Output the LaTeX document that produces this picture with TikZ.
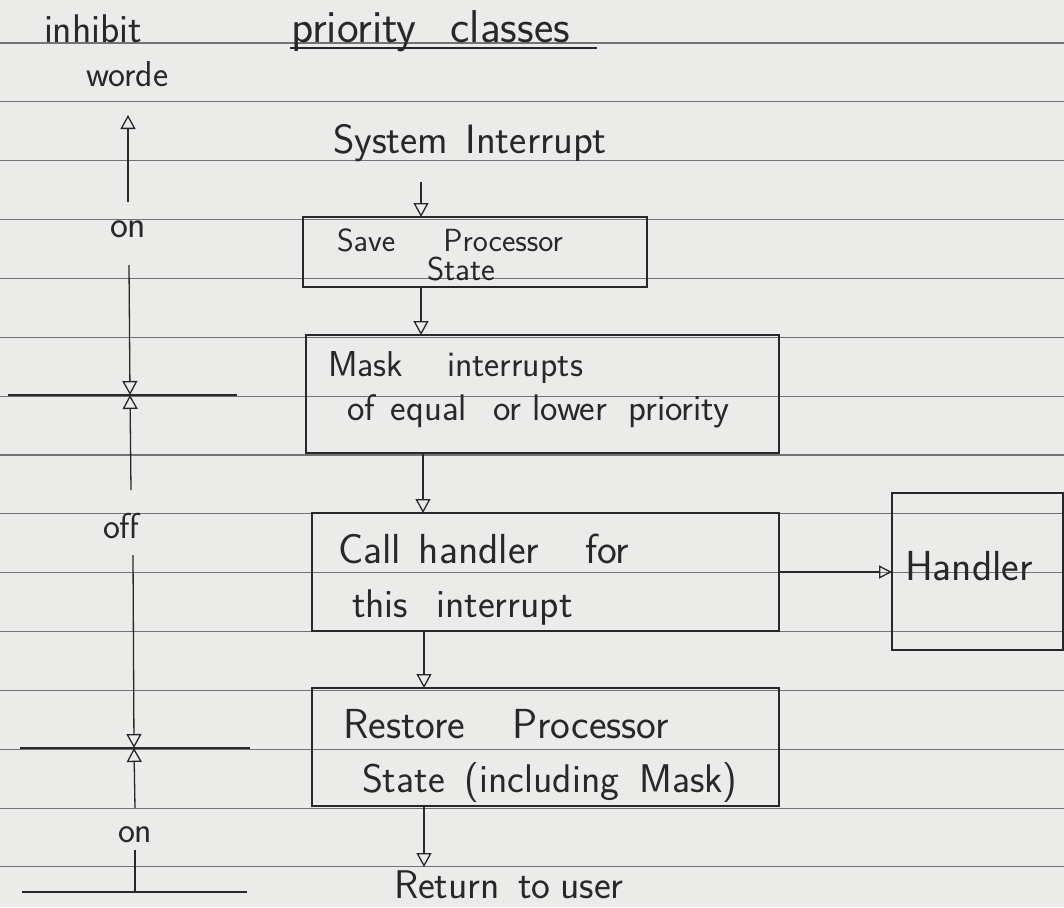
\documentclass[tikz,border=0pt]{standalone}
\usepackage{fontspec}
\usetikzlibrary{arrows.meta}
\definecolor{paper}{RGB}{235,235,233}
\definecolor{ink}{RGB}{40,40,40}
\definecolor{rulec}{RGB}{115,115,115}
\newcommand\hwsize[1]{\sffamily\fontsize{#1}{#1}\selectfont}
\begin{document}
\begin{tikzpicture}[x=1pt,y=-1pt,
  rule/.style={draw=rulec, line width=1.1pt},
  pen/.style={draw=ink, line width=2pt},
  box/.style={draw=ink, line width=1.7pt, inner sep=0pt, outer sep=0pt},
  arr/.style={draw=ink, line width=1.3pt, -{Triangle[open,length=14pt,width=15pt]}},
  sarr/.style={draw=ink, line width=1.3pt, -{Triangle[open,length=13pt,width=13pt]}},
  hw/.style={anchor=base west, inner sep=0pt, outer sep=0pt, text=ink}]
\useasboundingbox (0,0) rectangle (1064,907);
\fill[paper] (0,0) rectangle (1064,907);
\foreach \k in {0,...,14}{\pgfmathsetmacro\yy{43+58.85*\k}\draw[rule] (0,\yy) -- (1064,\yy);}

% header texts
\node[hw, font=\hwsize{40}] (inhibit) at (44,42) {inhibit};
\node[hw, font=\hwsize{36}] (worde) at (86,86) {worde};
\node[hw, font=\hwsize{46}] (prio) at (291,43) {priority\hspace{34pt}classes};
\draw[pen] (290,48) -- (597,48);

% left column: inhibit word states
\node[hw, font=\hwsize{38}] (on1) at (110,237) {on};
\node[hw, font=\hwsize{36}] (off) at (103,538) {off};
\node[hw, font=\hwsize{36}] (on3) at (118,842) {on};
\coordinate (t0) at (128,115);
\coordinate (c1) at (128,202);
\coordinate (c2) at (129,265);
\coordinate (b1) at (130,395);
\coordinate (c3) at (131,490);
\coordinate (c4) at (133,555);
\coordinate (b2) at (134,748);
\coordinate (c5) at (135,808);
\coordinate (c6) at (135,850);
\coordinate (b3) at (135,892);
\draw[arr] (c1) -- (t0);
\draw[arr] (c2) -- (b1);
\draw[arr] (c3) -- (b1);
\draw[arr] (c4) -- (b2);
\draw[arr] (c5) -- (b2);
\draw[draw=ink, line width=1.3pt] (c6) -- (b3);
\coordinate (h1a) at (8,395);   \coordinate (h1b) at (237,395);
\coordinate (h2a) at (20,748);  \coordinate (h2b) at (250,748);
\coordinate (h3a) at (22,892);  \coordinate (h3b) at (247,892);
\draw[pen] (h1a) -- (h1b);
\draw[pen] (h2a) -- (h2b);
\draw[pen] (h3a) -- (h3b);

% main flow
\node[hw, font=\hwsize{41}] (sysint) at (333,153) {System\hspace{17pt}Interrupt};

\node[box, minimum width=344pt, minimum height=70pt] (save) at (475,252) {};
\node[hw, font=\hwsize{32}] (save1) at (337,251) {Save\hspace{48pt}Processor};
\node[hw, font=\hwsize{33}] (save2) at (427,280) {State};

\node[box, minimum width=473pt, minimum height=118pt] (mask) at (542.5,394) {};
\node[hw, font=\hwsize{36}] (mask1) at (328,376) {Mask\hspace{44pt}interrupts};
\node[hw, font=\hwsize{37}] (mask2) at (347,420) {of\hspace{16pt}equal\hspace{26pt}or\hspace{11pt}lower\hspace{21pt}priority};

\node[box, minimum width=467pt, minimum height=118pt] (call) at (545.5,572) {};
\node[hw, font=\hwsize{42}] (call1) at (338,563) {Call\hspace{18pt}handler\hspace{46pt}for};
\node[hw, font=\hwsize{40}] (call2) at (352,617) {this\hspace{28pt}interrupt};

\node[box, minimum width=171pt, minimum height=157pt] (handler) at (977.5,571.5) {};
\node[hw, font=\hwsize{42}] (htext) at (905,580) {Handler};

\node[box, minimum width=467pt, minimum height=118pt] (restore) at (545.5,747) {};
\node[hw, font=\hwsize{42}] (rest1) at (343,738) {Restore\hspace{47pt}Processor};
\node[hw, font=\hwsize{40}] (rest2) at (362,792) {State\hspace{20pt}(including\hspace{20pt}Mask)};

\node[hw, font=\hwsize{40}] (ret) at (394,898) {Return\hspace{18pt}to\hspace{10pt}user};

\coordinate (a0) at (421,182);
\coordinate (a1) at (421,0);
\coordinate (a2) at (423,0);
\coordinate (a3) at (424,0);
\coordinate (rend) at (424,867);
\draw[arr] (a0) -- (a0 |- save.north);
\draw[arr] (save.south -| a1) -- (mask.north -| a1);
\draw[arr] (mask.south -| a2) -- (call.north -| a2);
\draw[arr] (call.south -| a3) -- (restore.north -| a3);
\draw[arr] (restore.south -| a3) -- (rend);
\draw[sarr] (call.east) -- (call.east -| handler.west);
\end{tikzpicture}
\end{document}
